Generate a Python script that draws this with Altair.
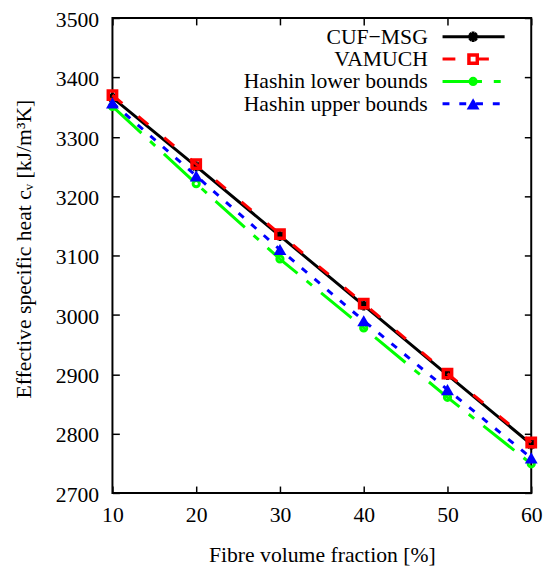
import altair as alt
import pandas as pd

# ---- data ----
fraction = [10, 20, 30, 40, 50, 60]
cuf_msg = [3366, 3250, 3133, 3016, 2899, 2782]
vamuch = [3370, 3254, 3136, 3019, 2901, 2785]
hashin_lower = [3351, 3221, 3094, 2978, 2861, 2749]
hashin_upper = [3357, 3234, 3110, 2990, 2874, 2759]

series_names = ["CUF\u2212MSG", "VAMUCH", "Hashin lower bounds", "Hashin upper bounds"]
x_ticks = [10, 20, 30, 40, 50, 60]
y_ticks = [2700, 2800, 2900, 3000, 3100, 3200, 3300, 3400, 3500]

rows = []
for name, vals in zip(series_names, [cuf_msg, vamuch, hashin_lower, hashin_upper]):
    for f, v in zip(fraction, vals):
        rows.append({"fraction": f, "value": v, "series": name})
df = pd.DataFrame(rows)
legend_df = pd.DataFrame({"series": series_names})

FONT = "Liberation Serif"
FS = 22
W, H = 425, 482

xs = alt.Scale(domain=[10, 60], nice=False, zero=False)
ys = alt.Scale(domain=[2700, 3500], nice=False, zero=False)

tick_common = dict(offset=-7, tickSize=7, tickWidth=1.5, tickColor="black",
                   domain=False, grid=False)

x_bottom = alt.Axis(orient="bottom", values=x_ticks, format="d", labelFont=FONT, labelFontSize=FS,
                    labelColor="black", labelPadding=12, labelFlush=False, labelOverlap=False,
                    title="Fibre volume fraction [%]", titleFont=FONT, titleFontSize=FS,
                    titleFontWeight="normal", titleColor="black", titleX=W / 2, titleY=70,
                    titleAlign="center", titleBaseline="middle", titleAngle=0, **tick_common)
y_left = alt.Axis(orient="left", values=y_ticks, format="d", labelFont=FONT, labelFontSize=FS,
                  labelColor="black", labelPadding=14, labelOffset=1.5, labelFlush=False,
                  labelOverlap=False,
                  title="Effective specific heat c\u1d65 [kJ/m\u00b3K]", titleFont=FONT,
                  titleFontSize=FS, titleFontWeight="normal", titleColor="black",
                  titleX=-97, titleY=234, titleAngle=270, titleAlign="center",
                  titleBaseline="middle", **tick_common)
x_top = alt.Axis(orient="top", values=x_ticks, labels=False, title="", **tick_common)
y_right = alt.Axis(orient="right", values=y_ticks, labels=False, title="", **tick_common)

asterisk = "M-1,0L1,0M0,-1L0,1M-0.7,-0.7L0.7,0.7M-0.7,0.7L0.7,-0.7"
styles = [
    dict(color="#000000", dash=None, shape=asterisk, size=110, filled=False, psw=3),
    dict(color="#ff0000", dash=[13, 21], shape="square", size=72, filled=False, psw=3.5),
    dict(color="#00ff00", dash=[40, 12, 7, 12], shape="circle", size=40, filled=False, psw=3),
    dict(color="#0000ff", dash=[7, 10], shape="triangle-up", size=170, filled=True, psw=0.5),
]

base = alt.Chart(df)
leg = alt.Chart(legend_df)
layers = []
legend_layers = []
for i, (name, st) in enumerate(zip(series_names, styles)):
    if i == 0:
        xa_l, ya_l, xa_p, ya_p = x_bottom, y_left, x_top, y_right
    else:
        xa_l = ya_l = xa_p = ya_p = None
    line_kw = dict(color=st["color"], strokeWidth=3)
    if st["dash"]:
        line_kw["strokeDash"] = st["dash"]
    line = base.transform_filter(alt.datum.series == name).mark_line(**line_kw).encode(
        x=alt.X("fraction:Q", scale=xs, axis=xa_l),
        y=alt.Y("value:Q", scale=ys, axis=ya_l),
    )
    pt = base.transform_filter(alt.datum.series == name).mark_point(
        shape=st["shape"], size=st["size"], filled=st["filled"], color=st["color"],
        strokeWidth=st["psw"], opacity=1,
    ).encode(
        x=alt.X("fraction:Q", scale=xs, axis=xa_p),
        y=alt.Y("value:Q", scale=ys, axis=ya_p),
    )
    layers += [line, pt]

    ly = 19 + 22.7 * i
    ltxt = leg.transform_filter(alt.datum.series == name).mark_text(
        align="right", baseline="middle", font=FONT, fontSize=FS, color="black"
    ).encode(x=alt.value(320), y=alt.value(ly), text="series:N")
    lrule = leg.transform_filter(alt.datum.series == name).mark_rule(**line_kw).encode(
        x=alt.value(335), x2=alt.value(398), y=alt.value(ly)
    )
    lpt = leg.transform_filter(alt.datum.series == name).mark_point(
        shape=st["shape"], size=st["size"], filled=st["filled"], color=st["color"],
        strokeWidth=st["psw"], opacity=1,
    ).encode(x=alt.value(366), y=alt.value(ly))
    legend_layers += [ltxt, lrule, lpt]

chart = alt.layer(*layers, *legend_layers).resolve_axis(
    x="independent", y="independent"
).properties(
    width=W, height=H,
    padding={"left": 106, "top": 6, "right": 16, "bottom": 70},
    autosize=alt.AutoSizeParams(type="none"),
    background="white",
).configure_view(stroke="black", strokeWidth=2)

chart.save("out.html", embed_options={"renderer": "svg", "actions": False})
